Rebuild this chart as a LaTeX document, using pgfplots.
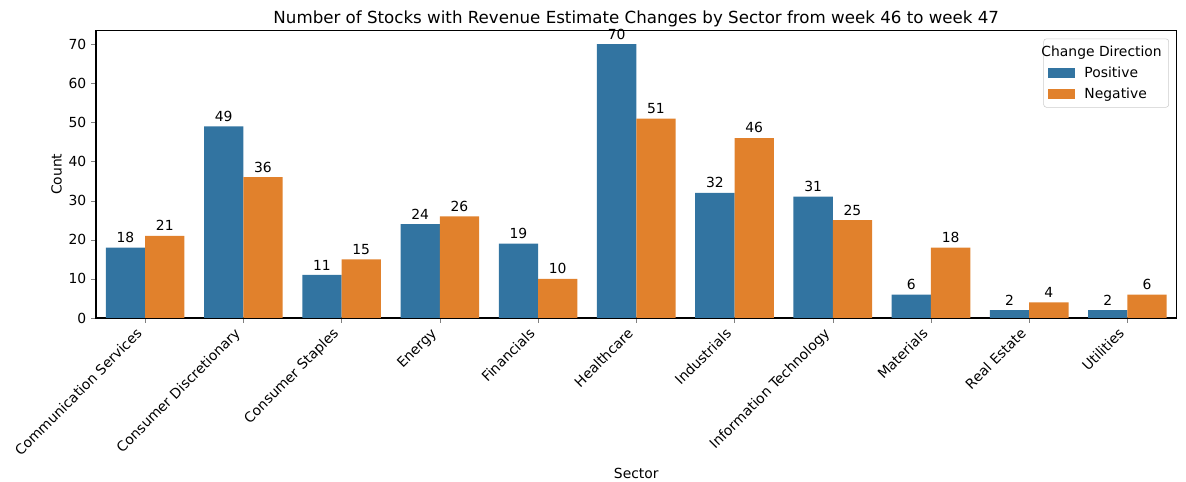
\documentclass[border=0pt]{standalone}
\usepackage{fontspec}
\setmainfont{DejaVu Sans}
\usepackage{pgfplots}
\pgfplotsset{compat=1.18}

\definecolor{sbblue}{HTML}{3274A1}
\definecolor{sborange}{HTML}{E1812C}

\begin{document}
\begin{tikzpicture}
\begin{axis}[
  scale only axis,
  width=778pt, height=207pt,
  xmin=-0.5, xmax=10.5,
  ymin=0, ymax=73.5,
  ytick={0,10,...,70},
  xtick={0,...,10},
  xticklabels={Communication Services,Consumer Discretionary,Consumer Staples,Energy,Financials,Healthcare,Industrials,Information Technology,Materials,Real Estate,Utilities},
  x tick label style={rotate=45, anchor=north east, inner sep=1pt, xshift=-6pt, yshift=4pt},
  tick label style={font=\fontsize{10}{12}\selectfont},
  /pgf/number format/assume math mode=true,
  tick align=outside,
  tick pos=left,
  major tick length=3.5pt,
  title={Number of Stocks with Revenue Estimate Changes by Sector from week 46 to week 47},
  title style={font=\fontsize{12}{14}\selectfont, yshift=-7pt},
  xlabel={Sector},
  ylabel={Count},
  label style={font=\fontsize{10}{12}\selectfont},
  ylabel style={yshift=-2pt},
  xlabel style={yshift=-3pt},
  ybar, bar width=0.4, bar shift=0pt,
  nodes near coords,
  nodes near coords style={font=\fontsize{10}{12}\selectfont, color=black},
  axis line style={line width=0.8pt},
  legend style={at={(0.993,0.972)}, anchor=north east, font=\fontsize{10}{12}\selectfont,
    draw=black!20, rounded corners=2pt, row sep=2pt, inner sep=3pt,
    /tikz/every even column/.append style={column sep=0pt}},
  legend cell align=left,
  legend image code/.code={\fill[sharp corners] (0pt,-3.6pt) rectangle (19.4pt,3.6pt);},
]
\addlegendimage{empty legend}
\addlegendentry{\hspace{-26pt}Change Direction}
\addplot[fill=sbblue, draw=none] coordinates {
  (-0.2,18) (0.8,49) (1.8,11) (2.8,24) (3.8,19) (4.8,70) (5.8,32) (6.8,31) (7.8,6) (8.8,2) (9.8,2)
};
\addlegendentry{\hspace{5pt}Positive}
\addplot[fill=sborange, draw=none] coordinates {
  (0.2,21) (1.2,36) (2.2,15) (3.2,26) (4.2,10) (5.2,51) (6.2,46) (7.2,25) (8.2,18) (9.2,4) (10.2,6)
};
\addlegendentry{\hspace{5pt}Negative}
\end{axis}
\pgfresetboundingbox
\path[use as bounding box] ([shift={(-69.12pt,-118.08pt)}]current axis.south west) rectangle ([shift={(784.8pt,228.96pt)}]current axis.south west);
\end{tikzpicture}
\end{document}
